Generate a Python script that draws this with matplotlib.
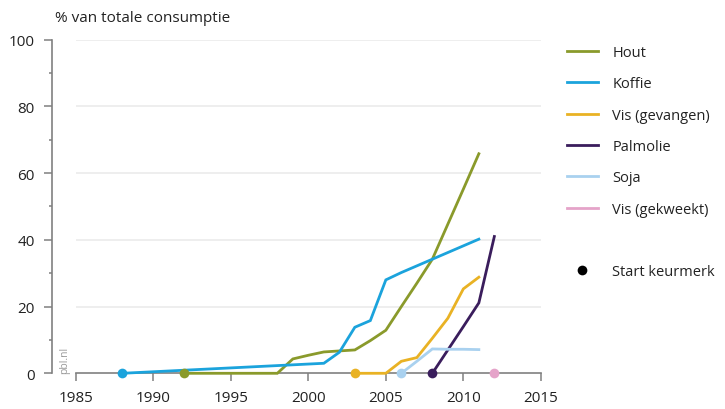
import matplotlib
matplotlib.use("Agg")
import matplotlib.pyplot as plt
from matplotlib.lines import Line2D

plt.rcParams['font.family'] = ['Open Sans', 'DejaVu Sans']

# ---- data ----
series_names = ["Hout", "Koffie", "Vis (gevangen)", "Palmolie", "Soja", "Vis (gekweekt)"]
series_colors = ["#8a9a2b", "#1ba3dc", "#e9b224", "#3a1d5c", "#a9d1ef", "#e5a3c9"]
start_years = [1992, 1988, 2003, 2008, 2006, 2012]

hout_years = [1992, 1998, 1999, 2000, 2001, 2002, 2003, 2004, 2005, 2006, 2007, 2008, 2009, 2010, 2011]
hout_vals = [0, 0, 4.3, 5.4, 6.4, 6.7, 7.0, 9.8, 12.9, 20.0, 27.0, 34.2, 44.7, 55.2, 65.8]

koffie_years = [1988, 2001, 2002, 2003, 2004, 2005, 2006, 2007, 2008, 2009, 2010, 2011]
koffie_vals = [0, 3.0, 6.3, 13.8, 15.8, 28.0, 30.2, 32.2, 34.2, 36.2, 38.2, 40.2]

visg_years = [2003, 2004, 2005, 2006, 2007, 2008, 2009, 2010, 2011]
visg_vals = [0, 0, 0, 3.6, 4.7, 10.5, 16.5, 25.3, 28.8]

palm_years = [2008, 2009, 2010, 2011, 2012]
palm_vals = [0, 7.0, 14.0, 21.1, 41.0]

soja_years = [2006, 2007, 2008, 2009, 2010, 2011]
soja_vals = [0, 3.6, 7.3, 7.2, 7.2, 7.1]

viskw_years = []
viskw_vals = []

x_ticks = [1985, 1990, 1995, 2000, 2005, 2010, 2015]
y_ticks = [0, 20, 40, 60, 80, 100]
y_minor = [10, 30, 50, 70, 90]

all_years = [hout_years, koffie_years, visg_years, palm_years, soja_years, viskw_years]
all_vals = [hout_vals, koffie_vals, visg_vals, palm_vals, soja_vals, viskw_vals]

# ---- figure ----
fig = plt.figure(figsize=(7.25, 4.10), dpi=100)
ax = fig.add_axes([0.1046, 0.0871, 0.6414, 0.8137])
ax.set_xlim(1985, 2015)
ax.set_ylim(0, 100)

axis_col = "#808080"
fs = 11
for s in ["top", "right"]:
    ax.spines[s].set_visible(False)
ax.spines["left"].set_position(("outward", 17.5))
ax.spines["left"].set_color(axis_col)
ax.spines["left"].set_linewidth(1.2)
ax.spines["bottom"].set_color(axis_col)
ax.spines["bottom"].set_linewidth(1.2)
ax.spines["bottom"].set_zorder(1)

ax.set_yticks(y_ticks)
ax.set_yticks(y_minor, minor=True)
ax.set_xticks(x_ticks)
ax.tick_params(axis="y", which="major", length=6, width=1.1, color=axis_col,
               labelsize=fs, pad=6, labelcolor="#222222")
ax.tick_params(axis="y", which="minor", length=2.5, width=1.1, color=axis_col)
ax.tick_params(axis="x", which="major", length=6, width=1.1, color=axis_col,
               labelsize=fs, pad=6, labelcolor="#222222")

for yv in y_ticks[1:]:
    ax.axhline(yv, color="#ebebeb", lw=1.2, zorder=0)

for yrs, vals, col in zip(all_years, all_vals, series_colors):
    if yrs:
        ax.plot(yrs, vals, color=col, lw=2.0, zorder=3, solid_joinstyle="miter",
                clip_on=False)

for sy, col in zip(start_years, series_colors):
    ax.plot([sy], [0], marker="o", ms=7, color=col, zorder=5, clip_on=False,
            markeredgewidth=0)

fig.text(55 / 725, 1 - 19 / 410, "% van totale consumptie", fontsize=fs,
         color="#222222", ha="left", va="center")
fig.text(65 / 725, 1 - 360 / 410, "pbl.nl", fontsize=7.5, color="#999999",
         rotation=90, ha="center", va="center")

handles = [Line2D([0], [0], color=c, lw=2.0) for c in series_colors]
labels = list(series_names)
handles.append(Line2D([0], [0], color="none"))
labels.append("")
handles.append(Line2D([0], [0], color="none", marker="o", markerfacecolor="black",
                      markeredgewidth=0, ms=7))
labels.append("Start keurmerk")

leg = fig.legend(handles, labels, loc="upper left",
                 bbox_to_anchor=(567 / 725, 1 - 46 / 410),
                 frameon=False, fontsize=10.5, handlelength=2.1,
                 handletextpad=1.0, labelspacing=1.12, borderpad=0,
                 borderaxespad=0)
for t in leg.get_texts():
    t.set_color("#222222")

fig.savefig("out.png", dpi=100)
